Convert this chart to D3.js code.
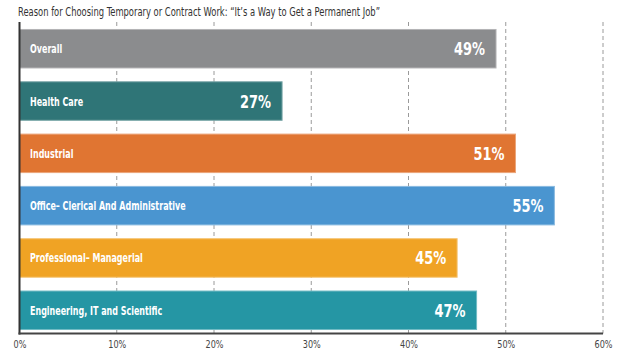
<!DOCTYPE html>
<html>
<head>
<meta charset="utf-8">
<script src="https://cdn.jsdelivr.net/npm/d3@7"></script>
<style>
  html, body { margin: 0; padding: 0; background: #fff; }
  svg { display: block; }
  .narrow { font-family: "Liberation Sans Narrow", "DejaVu Sans Condensed", "Roboto Condensed", sans-serif; }
</style>
</head>
<body>
<svg id="chart" width="618" height="353"></svg>
<script>
// Survey answers by job category
const categories = [
  "Overall",
  "Health Care",
  "Industrial",
  "Office– Clerical And Administrative",
  "Professional– Managerial",
  "Engineering, IT and Scientific"
];
const values = [49, 27, 51, 55, 45, 47];
const colors = ["#8b8c8e", "#2f7577", "#e07532", "#4a95d0", "#f0a324", "#2596a4"];
const tickValues = [0, 10, 20, 30, 40, 50, 60];
const title = "Reason for Choosing Temporary or Contract Work: \u201CIt\u2019s a Way to Get a Permanent Job\u201D";

const svg = d3.select("#chart");

const x = d3.scaleLinear().domain([0, 60]).range([19.5, 603]);
const y = d3.scaleBand()
  .domain(categories)
  .range([22, 337])
  .paddingInner(0.264)
  .paddingOuter(0.143);

const plotTop = 22, plotBottom = 333.5;

// Title
svg.append("text")
  .attr("class", "narrow")
  .attr("x", 18)
  .attr("y", 16)
  .attr("font-size", 12)
  .attr("fill", "#333")
  .attr("textLength", 362)
  .attr("lengthAdjust", "spacingAndGlyphs")
  .text(title);

// Dashed vertical gridlines
svg.append("g")
  .selectAll("line")
  .data(tickValues.filter(d => d > 0))
  .join("line")
  .attr("x1", d => x(d))
  .attr("x2", d => x(d))
  .attr("y1", plotTop)
  .attr("y2", plotBottom)
  .attr("stroke", "#9a9a9a")
  .attr("stroke-width", 1)
  .attr("stroke-dasharray", "4,3");

// Bars
const rows = categories.map((c, i) => ({ cat: c, value: values[i], color: colors[i] }));

const bar = svg.append("g")
  .selectAll("g")
  .data(rows)
  .join("g");

bar.append("rect")
  .attr("x", x(0))
  .attr("y", d => y(d.cat))
  .attr("width", d => x(d.value) - x(0))
  .attr("height", y.bandwidth())
  .attr("fill", d => d.color)
  .attr("stroke", d => d3.interpolateRgb(d.color, "#fff")(0.35))
  .attr("stroke-width", 1);

// Category names, horizontally condensed
bar.append("text")
  .attr("class", "narrow")
  .attr("transform", d => `translate(30,${y(d.cat) + y.bandwidth() / 2 + 4.5}) scale(0.74,1)`)
  .attr("font-size", 12)
  .attr("font-weight", "bold")
  .attr("fill", "#fff")
  .text(d => d.cat);

// Value labels at the bar ends
bar.append("text")
  .attr("class", "narrow")
  .attr("transform", d => `translate(${x(d.value) - 11},${y(d.cat) + y.bandwidth() / 2 + 6.5}) scale(0.8,1)`)
  .attr("text-anchor", "end")
  .attr("font-size", 18)
  .attr("font-weight", "bold")
  .attr("fill", "#fff")
  .text(d => d.value + "%");

// Axes
svg.append("line")
  .attr("x1", x(0)).attr("x2", x(0))
  .attr("y1", plotTop).attr("y2", plotBottom + 1)
  .attr("stroke", "#333").attr("stroke-width", 2);

svg.append("line")
  .attr("x1", x(0) - 1).attr("x2", x(60))
  .attr("y1", plotBottom).attr("y2", plotBottom)
  .attr("stroke", "#444").attr("stroke-width", 2);

const xAxis = svg.append("g")
  .attr("transform", `translate(0,${plotBottom + 4})`)
  .call(d3.axisBottom(x).tickValues(tickValues).tickSize(0).tickFormat(d => d + "%"));
xAxis.select(".domain").remove();
xAxis.selectAll(".tick text")
  .attr("class", "narrow")
  .attr("font-size", 11)
  .attr("fill", "#444")
  .attr("transform", "scale(0.82,1)")
  .style("font-family", "'Liberation Sans Narrow', 'DejaVu Sans Condensed', sans-serif");
</script>
</body>
</html>
